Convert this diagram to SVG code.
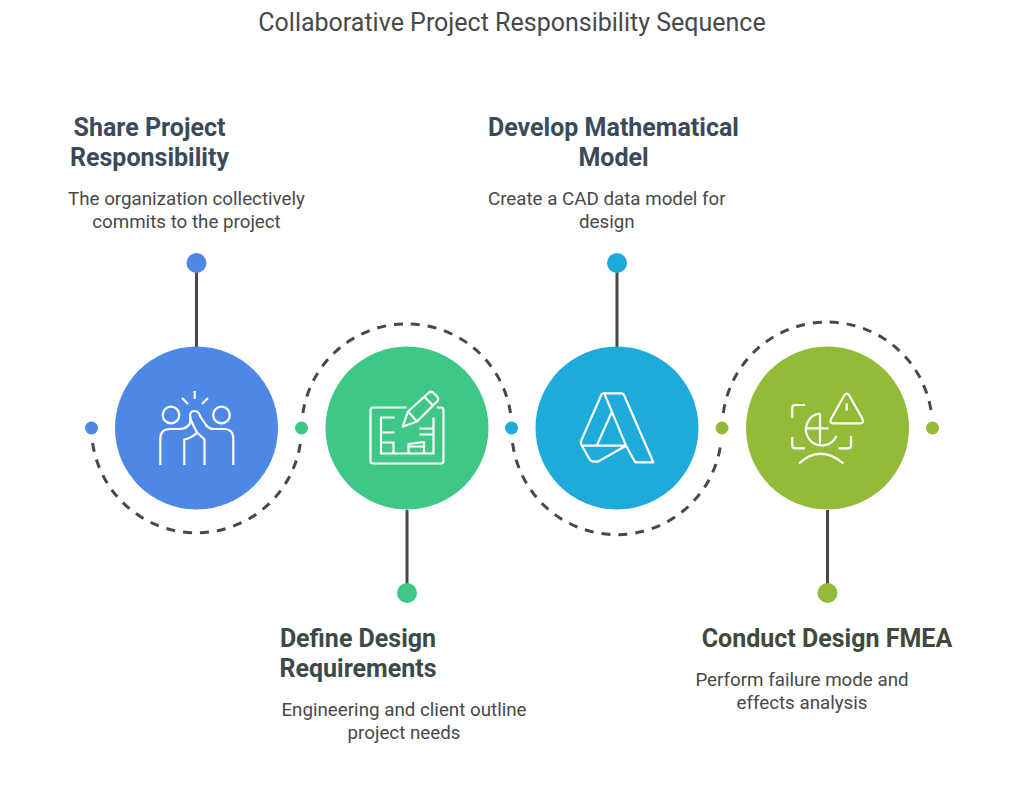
<svg xmlns="http://www.w3.org/2000/svg" width="1024" height="790" viewBox="0 0 1024 790">
<style>
text{font-family:Roboto,"Liberation Sans",sans-serif;text-anchor:middle}
.t{font-size:25px;fill:#484848}
.h{font-size:25px;font-weight:700}
.d{font-size:18.750px;fill:#484848}
.i{fill:none;stroke:#fff;stroke-width:2.200;stroke-linejoin:round;stroke-linecap:butt}
.s{fill:none;stroke:#484848;stroke-width:3}
.a{fill:none;stroke:#484848;stroke-width:3;stroke-dasharray:9 8}
</style>
<rect width="1024" height="790" fill="#fff"/>
<text class="t" x="512" y="31">Collaborative Project Responsibility Sequence</text>
<g id="connectors">
<path class="a" d="M92.600 443 A105 105 0 0 0 300.400 443"/>
<path class="a" d="M302.900 413 A105 105 0 0 1 510.500 413"/>
<path class="a" d="M512.600 443 A105 105 0 0 0 720.900 443"/>
<path class="a" d="M723.300 413 A105 105 0 0 1 931.400 413"/>
<path class="s" d="M196.500 263V347M407 510V593M617 263V347M827.500 510V593"/>
</g>
<g id="node-share">
<circle cx="196.500" cy="428" r="81.500" fill="#4d88e6"/>
<circle cx="91.500" cy="428" r="6.500" fill="#4d88e6"/>
<circle cx="196.500" cy="263" r="10" fill="#4d88e6"/>
<g class="i">
<circle cx="171" cy="415" r="8.300"/><circle cx="221.500" cy="415" r="8.300"/>
<path d="M194.700 391V399M182 398L188 404M208 398L202 404"/>
<path d="M160.300 465V439Q160.300 429 170 429H180Q186 429 190 423.500L190.500 418Q189 411 194.500 411Q199 411 200.500 417L206 425Q209 429 214 429H224Q233.300 429 233.300 439V465"/>
<path d="M184.300 465V439.500Q192 438 197 432.500Q193 425 190 418M197 432.500Q201 436 204.500 439.500V465"/>
</g>
<text class="h" fill="#3b4a58"><tspan x="149.500" y="136">Share Project</tspan><tspan x="149.500" y="166">Responsibility</tspan></text>
<text class="d"><tspan x="186.500" y="205">The organization collectively</tspan><tspan x="186.500" y="227.500">commits to the project</tspan></text>
</g>
<g id="node-define">
<circle cx="407" cy="428" r="81.500" fill="#3ec785"/>
<circle cx="301.500" cy="428" r="6.500" fill="#3ec785"/>
<circle cx="407" cy="593" r="10" fill="#3ec785"/>
<g class="i">
<path d="M406.500 407.500H373Q370.500 407.500 370.500 410V461Q370.500 463.500 373 463.500H441Q443.500 463.500 443.500 461V410Q443.500 407.500 441 407.500H437"/>
<path d="M394.500 417.500H381V453.500H433.500V417.500M381 432.500H394.500M381 442.500H393.500V453.500M419.500 428.500H433.500M419.500 434.500H433.500M408.500 453.500V444L424 442V453.500M408.500 446.500H424"/>
<path d="M402.700 426.700L408 411.500L429 392.500Q431 391 433 392.500L437.500 397Q439 399 437.500 401L417 421.500ZM423.500 396L433.500 406M408 411.500L417 421.500"/>
</g>
<text class="h" fill="#3b4a46"><tspan x="358" y="647">Define Design</tspan><tspan x="358" y="677">Requirements</tspan></text>
<text class="d"><tspan x="404" y="716">Engineering and client outline</tspan><tspan x="404" y="738.500">project needs</tspan></text>
</g>
<g id="node-develop">
<circle cx="617" cy="428" r="81.500" fill="#1faadc"/>
<circle cx="511.500" cy="428" r="6.500" fill="#1faadc"/>
<circle cx="617" cy="263" r="10" fill="#1faadc"/>
<g class="i">
<path d="M601.700 394Q602.500 393.300 604 393.300H621Q623.300 393.300 624 395L653.300 462.300H636Q635 462.300 634.500 461L626 445.700L599 461Q598 461.700 596 461.700H594Q591 461.700 589.500 459L582 446Q580 443 581.500 440Z"/>
<path d="M604.300 393.300L626 445.700H582.300M596.700 445.700L611.700 412.300"/>
</g>
<text class="h" fill="#3b4a58"><tspan x="613.500" y="136">Develop Mathematical</tspan><tspan x="613.500" y="166">Model</tspan></text>
<text class="d"><tspan x="606.800" y="205">Create a CAD data model for</tspan><tspan x="606.800" y="227.500">design</tspan></text>
</g>
<g id="node-conduct">
<circle cx="827.500" cy="428" r="81.500" fill="#92bc38"/>
<circle cx="722" cy="428" r="6.500" fill="#92bc38"/>
<circle cx="932.500" cy="428" r="6.500" fill="#92bc38"/>
<circle cx="827.500" cy="593" r="10" fill="#92bc38"/>
<g class="i">
<path d="M792.300 418V408Q792.300 405 795 405H805M792.300 437V445.500Q792.300 448.300 795 448.300H805M851 436V445.500Q851 448.300 848 448.300H838.500"/>
<path d="M820 413.500A16 16 0 1 0 836.500 436M820 413.500V443.500M805.700 428.300H828.500"/>
<path d="M844.500 395Q846.700 392 849 395L862.500 419Q864.500 423.300 860 423.300H833.500Q829 423.300 831 419ZM846.700 403.500V410.500"/>
<path d="M799 463.500Q820 444 843.500 463.500"/>
</g>
<text class="h" fill="#3f4a3c"><tspan x="827" y="647">Conduct Design FMEA</tspan></text>
<text class="d"><tspan x="802" y="686">Perform failure mode and</tspan><tspan x="802" y="708.500">effects analysis</tspan></text>
</g>
</svg>
